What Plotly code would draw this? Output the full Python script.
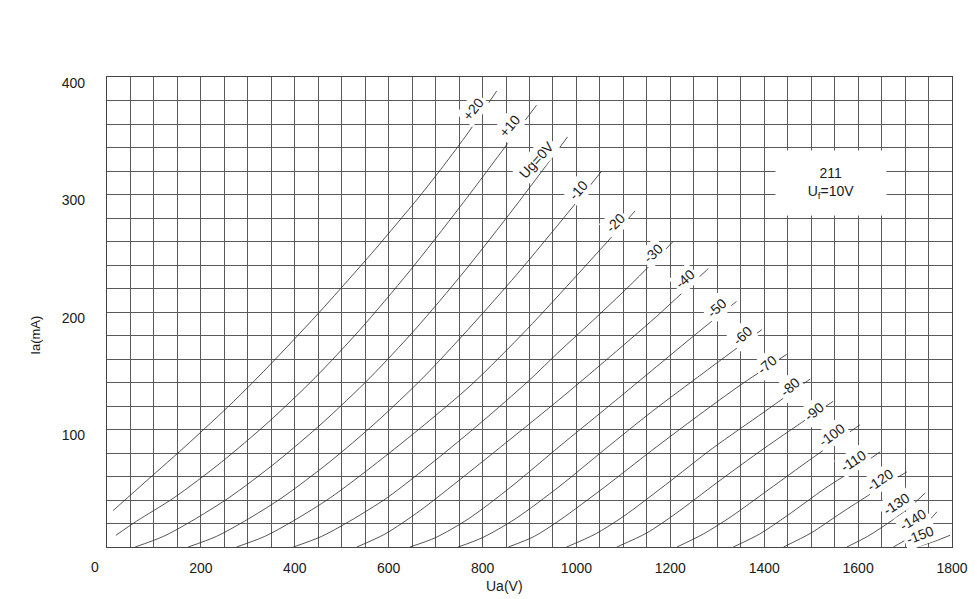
import plotly.graph_objects as go

# ---- data (Ua in V, Ia in mA) ----
grid_voltages = ["+20", "+10", "Ug=0V", "-10", "-20", "-30", "-40", "-50", "-60",
                 "-70", "-80", "-90", "-100", "-110", "-120", "-130", "-140", "-150"]

ua_p20 = [13, 103, 154, 257, 308, 359, 411, 462, 564, 617, 667, 716, 770, 830]
ia_p20 = [31, 63, 81, 119, 139, 160, 182, 204, 250, 275, 299, 324, 353, 388]

ua_p10 = [19, 63, 143, 243, 343, 443, 539, 643, 753, 864, 915]
ia_p10 = [10, 22, 42, 72, 106, 144, 185, 234, 290, 349, 376]

ua_0 = [60, 120, 180, 260, 360, 460, 560, 656, 760, 870, 981]
ia_0 = [0, 9, 22, 42, 72, 106, 144, 185, 234, 290, 349]

ua_m10 = [173, 233, 293, 373, 473, 573, 673, 769, 873, 983, 1054]
ia_m10 = [0, 9, 22, 42, 72, 106, 144, 185, 232, 285, 320]

ua_m20 = [276, 336, 396, 476, 576, 676, 776, 894, 1005, 1125]
ia_m20 = [0, 9, 22, 42, 72, 104, 138, 185, 233, 286]

ua_m30 = [397, 457, 517, 597, 697, 797, 897, 965, 1025, 1120, 1206]
ia_m30 = [0, 9, 22, 42, 73, 106, 141, 167, 189, 225, 260]

ua_m40 = [532, 592, 667, 760, 860, 965, 1060, 1170, 1281]
ia_m40 = [0, 11, 31, 60, 92, 126, 158, 196, 237]

ua_m50 = [645, 700, 770, 860, 965, 1060, 1160, 1260, 1341]
ia_m50 = [0, 8, 24, 51, 86, 117, 150, 183, 209]

ua_m60 = [748, 800, 870, 965, 1060, 1160, 1270, 1395]
ia_m60 = [0, 8, 24, 52, 83, 115, 148, 185]

ua_m70 = [855, 910, 965, 1060, 1160, 1260, 1350, 1448]
ia_m70 = [0, 9, 23, 51, 82, 112, 138, 164]

ua_m80 = [979, 1040, 1100, 1190, 1290, 1400, 1498]
ia_m80 = [0, 11, 26, 53, 84, 115, 143]

ua_m90 = [1086, 1150, 1210, 1300, 1400, 1480, 1547]
ia_m90 = [0, 12, 28, 55, 84, 106, 124]

ua_m100 = [1214, 1270, 1330, 1410, 1500, 1604]
ia_m100 = [0, 11, 26, 49, 75, 104]

ua_m110 = [1334, 1390, 1450, 1530, 1600, 1647]
ia_m110 = [0, 11, 27, 50, 68, 81]

ua_m120 = [1441, 1500, 1560, 1630, 1704]
ia_m120 = [0, 12, 28, 46, 64]

ua_m130 = [1576, 1620, 1670, 1710, 1743]
ia_m130 = [0, 9, 22, 34, 46]

ua_m140 = [1675, 1705, 1740, 1768]
ia_m140 = [0, 7, 18, 30]

ua_m150 = [1725, 1764, 1796]
ia_m150 = [0, 5, 10]

x_ticks = [200, 400, 600, 800, 1000, 1200, 1400, 1600, 1800]
y_ticks = [100, 200, 300, 400]
origin_label = "0"

# ---- layout-only helpers (label placement and angles) ----
label_pos = [(780, 373), (858, 358), (915, 329), (1004, 304), (1082, 276), (1164, 250),
             (1231, 228), (1299, 203), (1352, 180), (1405, 155), (1455, 136), (1505, 115),
             (1544, 95), (1590, 73), (1647, 57), (1681, 37), (1716, 23), (1732, 10)]
label_angle = [-52, -50, -48, -48, -45, -43, -42, -42, -42, -40, -41, -39,
               -36, -33, -34, -33, -31, -21]

curves = [(ua_p20, ia_p20), (ua_p10, ia_p10), (ua_0, ia_0), (ua_m10, ia_m10),
          (ua_m20, ia_m20), (ua_m30, ia_m30), (ua_m40, ia_m40), (ua_m50, ia_m50),
          (ua_m60, ia_m60), (ua_m70, ia_m70), (ua_m80, ia_m80), (ua_m90, ia_m90),
          (ua_m100, ia_m100), (ua_m110, ia_m110), (ua_m120, ia_m120),
          (ua_m130, ia_m130), (ua_m140, ia_m140), (ua_m150, ia_m150)]

FONT = "Liberation Sans, Arial, sans-serif"
GRID = "#5a5a5a"
TXT = "#1a1a1a"

fig = go.Figure()
for name, (ua, ia) in zip(grid_voltages, curves):
    fig.add_trace(go.Scatter(x=ua, y=ia, mode="lines", name=name,
                             line=dict(color="#2a2a2a", width=0.8, shape="spline", smoothing=0.8),
                             showlegend=False, hoverinfo="skip"))

annotations = []
for name, (lx, ly), ang in zip(grid_voltages, label_pos, label_angle):
    annotations.append(dict(x=lx, y=ly, xref="x", yref="y", text=name, showarrow=False,
                            textangle=ang, bgcolor="white", borderpad=2,
                            xanchor="center", yanchor="middle",
                            font=dict(family=FONT, size=14, color=TXT)))

annotations.append(dict(x=0.857, y=0.774, xref="paper", yref="paper",
                        xanchor="center", yanchor="middle",
                        text="211<br>U<sub>f</sub>=10V", showarrow=False, align="center",
                        bgcolor="white", borderpad=10, width=90, height=44,
                        font=dict(family=FONT, size=14, color=TXT)))
annotations.append(dict(x=-0.085, y=0.45, xref="paper", yref="paper", text="Ia(mA)",
                        xanchor="center", yanchor="middle",
                        showarrow=False, textangle=-90,
                        font=dict(family=FONT, size=13, color=TXT)))
annotations.append(dict(x=0.471, y=-0.083, xref="paper", yref="paper", text="Ua(V)",
                        xanchor="center", yanchor="middle", showarrow=False,
                        font=dict(family=FONT, size=14, color=TXT)))
annotations.append(dict(x=-0.0142, y=-0.043, xref="paper", yref="paper", text=origin_label,
                        xanchor="center", yanchor="middle", showarrow=False,
                        font=dict(family=FONT, size=14, color=TXT)))

# the page body adds an 8 px offset; size and margins compensate for it
fig.update_layout(
    width=969, height=591,
    margin=dict(l=99, r=25, t=69, b=52, autoexpand=False),
    paper_bgcolor="white", plot_bgcolor="white",
    annotations=annotations,
    xaxis=dict(range=[0, 1800], tickvals=x_ticks, ticktext=[str(v) for v in x_ticks],
               showgrid=True, gridcolor=GRID, gridwidth=1,
               minor=dict(dtick=50, tick0=0, showgrid=True, gridcolor=GRID, gridwidth=1),
               showline=True, mirror=True, linecolor="#444", linewidth=1.2,
               zeroline=False, ticks="", ticklabelstandoff=8, automargin=False,
               tickfont=dict(family=FONT, size=14, color=TXT)),
    yaxis=dict(range=[0, 400], tickvals=y_ticks, ticktext=[str(v) for v in y_ticks],
               showgrid=True, gridcolor=GRID, gridwidth=1,
               minor=dict(dtick=20, tick0=0, showgrid=True, gridcolor=GRID, gridwidth=1),
               showline=True, mirror=True, linecolor="#444", linewidth=1.2,
               zeroline=False, ticks="", ticklabelstandoff=18, ticklabelshift=6,
               automargin=False,
               tickfont=dict(family=FONT, size=14, color=TXT)),
)

fig.write_html("out.html")
